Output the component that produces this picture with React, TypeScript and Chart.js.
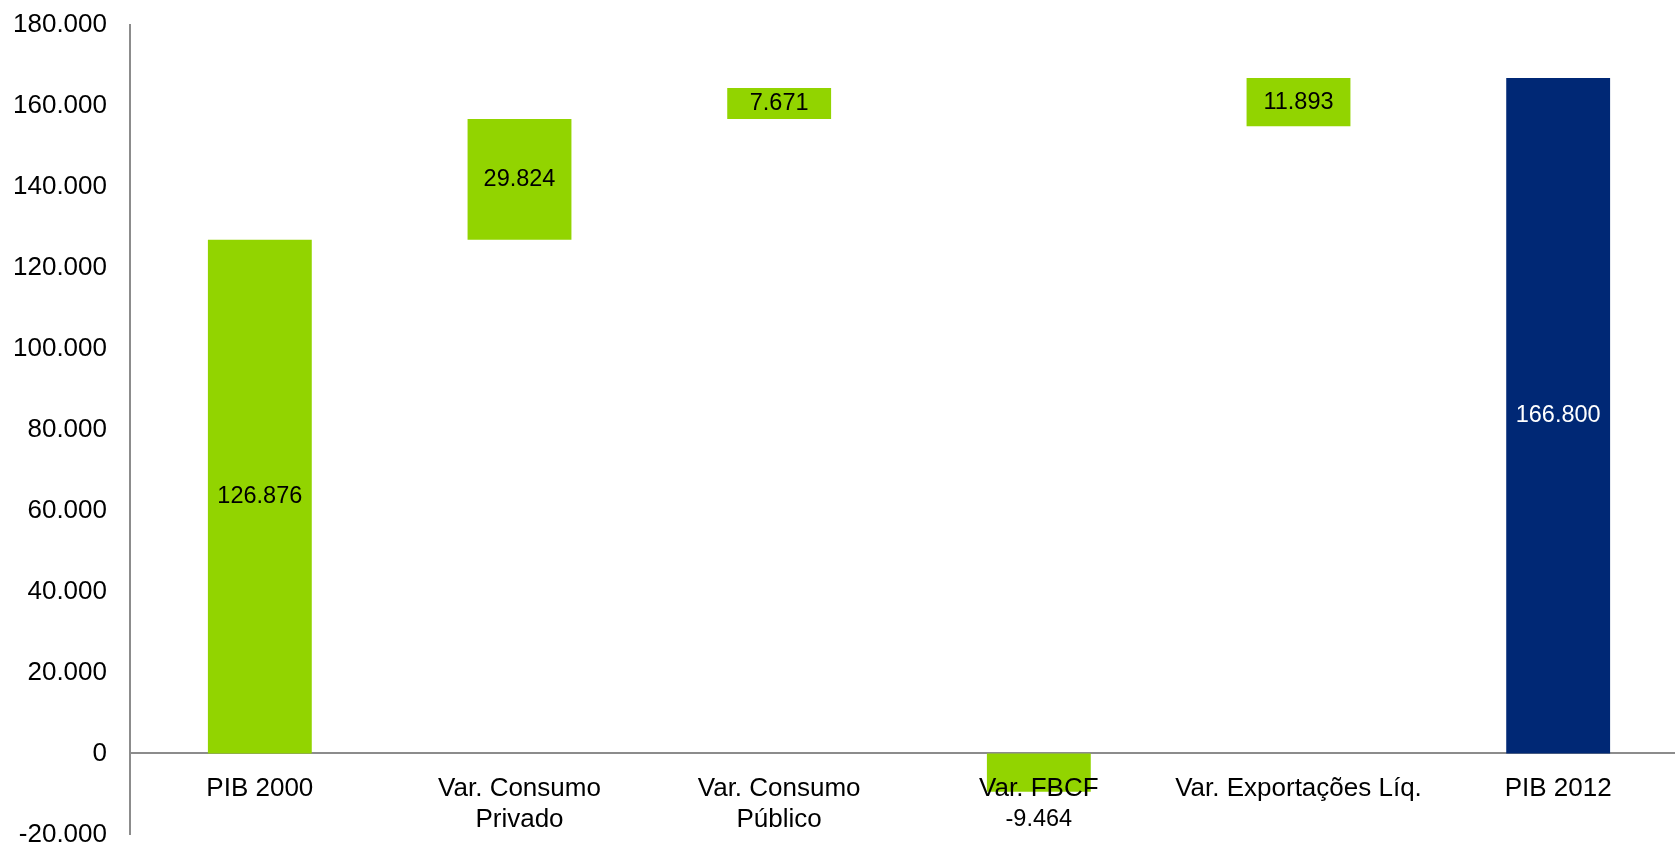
import React, { useEffect, useRef } from "react";
import { Chart, registerables } from "chart.js";

Chart.register(...registerables);

const categories: (string | string[])[] = [
  "PIB 2000",
  ["Var. Consumo", "Privado"],
  ["Var. Consumo", "Público"],
  "Var. FBCF",
  "Var. Exportações Líq.",
  "PIB 2012",
];
const barStart = [0, 126876, 156700, 0, 154907, 0];
const barEnd = [126876, 156700, 164371, -9464, 166800, 166800];
const labelValues = [126876, 29824, 7671, -9464, 11893, 166800];
const barColors = ["#92D400", "#92D400", "#92D400", "#92D400", "#92D400", "#002875"];
const labelColors = ["#000000", "#000000", "#000000", "#000000", "#000000", "#FFFFFF"];

const FONT = "'Liberation Sans', Arial, sans-serif";

function fmt(v: number): string {
  const neg = v < 0;
  const s = Math.round(Math.abs(v)).toString();
  const parts: string[] = [];
  for (let i = s.length; i > 0; i -= 3) parts.unshift(s.slice(Math.max(0, i - 3), i));
  return (neg ? "-" : "") + parts.join(".");
}

const labelPlugin = {
  id: "barLabels",
  afterDatasetsDraw(chart: any) {
    const ctx = chart.ctx;
    const meta = chart.getDatasetMeta(0);
    ctx.save();
    ctx.font = `23.5px ${FONT}`;
    ctx.textAlign = "center";
    ctx.textBaseline = "middle";
    meta.data.forEach((bar: any, i: number) => {
      const v = labelValues[i];
      const top = Math.min(bar.y, bar.base);
      const bottom = Math.max(bar.y, bar.base);
      let y = (top + bottom) / 2;
      if (v < 0) y = bottom + 28;
      ctx.fillStyle = labelColors[i];
      ctx.fillText(fmt(v), bar.x, y);
    });
    ctx.restore();
  },
};

export default function App() {
  const ref = useRef<HTMLCanvasElement | null>(null);
  useEffect(() => {
    document.body.style.margin = "0";
    if (!ref.current) return;
    const chart = new Chart(ref.current, {
      type: "bar",
      data: {
        labels: categories,
        datasets: [
          {
            data: barStart.map((s, i) => [s, barEnd[i]]) as any,
            backgroundColor: barColors,
            borderWidth: 0,
            barPercentage: 0.4,
            categoryPercentage: 1,
          },
        ],
      },
      options: {
        animation: false,
        responsive: false,
        maintainAspectRatio: false,
        layout: { padding: { left: 13, top: 10, bottom: 10, right: 0 } },
        plugins: { legend: { display: false }, tooltip: { enabled: false } },
        scales: {
          x: {
            position: { y: 0 } as any,
            grid: { display: false, drawTicks: false },
            border: { display: true, color: "#8C8C8C", width: 2 },
            afterFit: (s: any) => {
              s.height = 0;
            },
            ticks: {
              z: 1,
              color: "#000000",
              font: { family: FONT, size: 26, lineHeight: 1.2 },
              padding: 20,
              maxRotation: 0,
              autoSkip: false,
            },
          },
          y: {
            min: -20000,
            max: 180000,
            grid: { display: false, drawTicks: false },
            border: { display: true, color: "#8C8C8C", width: 2 },
            afterFit: (s: any) => {
              s.width = 117;
            },
            ticks: {
              stepSize: 20000,
              color: "#000000",
              font: { family: FONT, size: 26 },
              padding: 23,
              callback: (v: any) => fmt(Number(v)),
            },
          },
        },
      },
      plugins: [labelPlugin],
    });
    return () => chart.destroy();
  }, []);
  return (
    <div style={{ width: 1675, height: 846, overflow: "hidden", background: "#fff" }}>
      <canvas
        ref={ref}
        width={1688}
        height={887}
        style={{ display: "block", marginTop: -14 }}
      />
    </div>
  );
}
